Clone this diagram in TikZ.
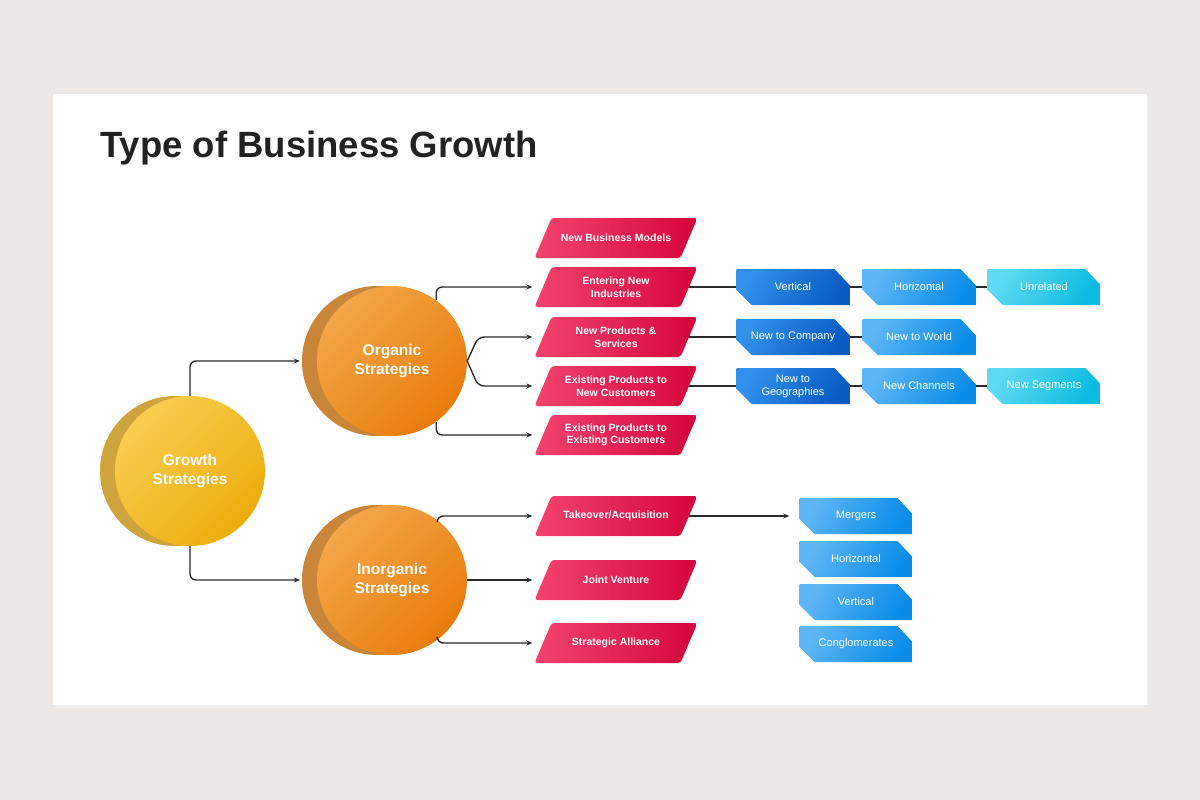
\documentclass[tikz,border=0pt]{standalone}
\usepackage{fontspec}
\setmainfont{Liberation Sans}
\usetikzlibrary{arrows.meta}

\definecolor{pagebg}{HTML}{ECE8E6}
\definecolor{titlegray}{HTML}{222222}
\definecolor{linegray}{HTML}{2A2A2A}
\definecolor{yellowlight}{HTML}{F8CD52}
\definecolor{yellowdark}{HTML}{ECAD0A}
\definecolor{yellowback}{HTML}{D0A43C}
\definecolor{orangelight}{HTML}{F4A64A}
\definecolor{orangedark}{HTML}{E87C0C}
\definecolor{orangeback}{HTML}{C98639}
\definecolor{redlight}{HTML}{F3446E}
\definecolor{reddark}{HTML}{D4053B}
\definecolor{blueAl}{HTML}{3090EA}
\definecolor{blueAd}{HTML}{0A5CC2}
\definecolor{blueBl}{HTML}{5EB6F6}
\definecolor{blueBd}{HTML}{0B8CE8}
\definecolor{blueCl}{HTML}{5FDAF2}
\definecolor{blueCd}{HTML}{0BBBE0}

\tikzset{
  bigcircle/.style={circle, inner sep=0pt, minimum size=150pt, text=white, align=center,
    font=\bfseries\fontsize{15.5}{19}\selectfont},
  yellowfront/.style={bigcircle, top color=yellowlight, bottom color=yellowdark, shading angle=45},
  yellowrear/.style={bigcircle, fill=yellowback},
  orangefront/.style={bigcircle, top color=orangelight, bottom color=orangedark, shading angle=45},
  orangerear/.style={bigcircle, fill=orangeback},
  % parallelogram drawn inside a 163x40 box
  redbox/.style={rectangle, minimum width=163pt, minimum height=40pt, inner sep=0pt,
    text=white, align=center, font=\bfseries\fontsize{10.5}{12.5}\selectfont,
    path picture={\shade[left color=redlight, right color=reddark, rounded corners=3pt]
      ([xshift=17pt]path picture bounding box.north west) -- (path picture bounding box.north east)
      -- ([xshift=-17pt]path picture bounding box.south east) -- (path picture bounding box.south west) -- cycle;}},
  % box with two cut corners
  bluebox/.style={rectangle, minimum width=113pt, minimum height=36pt, inner sep=0pt,
    text=white, align=center, font=\fontsize{11}{13}\selectfont,
    path picture={\shade[top color=#1l, bottom color=#1d, shading angle=60]
      (path picture bounding box.north west) -- ([xshift=-15pt]path picture bounding box.north east)
      -- ([yshift=-16pt]path picture bounding box.north east) -- (path picture bounding box.south east)
      -- ([xshift=15pt]path picture bounding box.south west) -- ([yshift=15pt]path picture bounding box.south west) -- cycle;}},
  link/.style={draw=linegray, line width=1.4pt, rounded corners=6pt, -{Stealth[length=6pt,width=5pt]}},
  joint/.style={draw=linegray, line width=1.4pt},
}

\begin{document}
\begin{tikzpicture}[x=1pt,y=-1pt]
  % page and card
  \fill[pagebg] (0,0) rectangle (1200,800);
  \fill[black!7] (54,96) rectangle (1149,708);
  \fill[white] (53,94) rectangle (1147,705);
  \node[anchor=base west, inner sep=0pt, text=titlegray, font=\bfseries\fontsize{36.5}{40}\selectfont] (title) at (100,157) {Type of Business Growth};

  % circles
  \node[yellowrear] (GSb) at (175,471) {};
  \node[yellowfront] (GS) at (190,471) {Growth\\Strategies};
  \node[orangerear] (OSb) at (377,361) {};
  \node[orangefront] (OS) at (392,361) {Organic\\Strategies};
  \node[orangerear] (ISb) at (377,580) {};
  \node[orangefront] (IS) at (392,580) {Inorganic\\Strategies};

  % organic branch
  \node[redbox] (R1) at (616,238) {New Business Models};
  \node[redbox] (R2) at (616,287) {Entering New\\Industries};
  \node[redbox] (R3) at (616,337) {New Products \&\\Services};
  \node[redbox] (R4) at (616,386) {Existing Products to\\New Customers};
  \node[redbox] (R5) at (616,435) {Existing Products to\\Existing Customers};

  % inorganic branch
  \node[redbox] (R6) at (616,516) {Takeover/Acquisition};
  \node[redbox] (R7) at (616,580) {Joint Venture};
  \node[redbox] (R8) at (616,643) {Strategic Alliance};

  % blue rows
  \node[bluebox=blueA] (B1a) at (793,287) {Vertical};
  \node[bluebox=blueB] (B1b) at (919,287) {Horizontal};
  \node[bluebox=blueC] (B1c) at (1044,287) {Unrelated};
  \node[bluebox=blueA] (B2a) at (793,337) {New to Company};
  \node[bluebox=blueB] (B2b) at (919,337) {New to World};
  \node[bluebox=blueA] (B3a) at (793,386) {New to\\Geographies};
  \node[bluebox=blueB] (B3b) at (919,386) {New Channels};
  \node[bluebox=blueC] (B3c) at (1044,386) {New Segments};

  % blue column
  \node[bluebox=blueB] (C1) at (856,516) {Mergers};
  \node[bluebox=blueB] (C2) at (856,559) {Horizontal};
  \node[bluebox=blueB] (C3) at (856,602) {Vertical};
  \node[bluebox=blueB] (C4) at (856,644) {Conglomerates};

  % connectors
  \draw[link, shorten >=2pt] (GS.north) |- (OSb.west);
  \draw[link, shorten >=2pt] (GS.south) |- (ISb.west);

  \draw[link, shorten >=2pt] (OS.54) |- (R2.west);
  \draw[link, shorten >=2pt] (OS.east) -- ([xshift=11pt]OS.east |- R3.west) -- (R3.west);
  \draw[link, shorten >=2pt] (OS.east) -- ([xshift=11pt]OS.east |- R4.west) -- (R4.west);
  \draw[link, shorten >=2pt] (OS.-54) |- (R5.west);

  \draw[link, shorten >=2pt] (IS.53) |- (R6.west);
  \draw[link, shorten >=2pt] (IS.east) -- (R7.west);
  \draw[link, shorten >=2pt] (IS.-53) |- (R8.west);

  \draw[joint] ([xshift=-9pt]R2.east) -- (B1a.west);
  \draw[joint] (B1a.east) -- (B1b.west);
  \draw[joint] (B1b.east) -- (B1c.west);
  \draw[joint] ([xshift=-9pt]R3.east) -- (B2a.west);
  \draw[joint] (B2a.east) -- (B2b.west);
  \draw[joint] ([xshift=-9pt]R4.east) -- (B3a.west);
  \draw[joint] (B3a.east) -- (B3b.west);
  \draw[joint] (B3b.east) -- (B3c.west);
  \draw[link, shorten >=10pt] ([xshift=-9pt]R6.east) -- (C1.west);
\end{tikzpicture}
\end{document}
